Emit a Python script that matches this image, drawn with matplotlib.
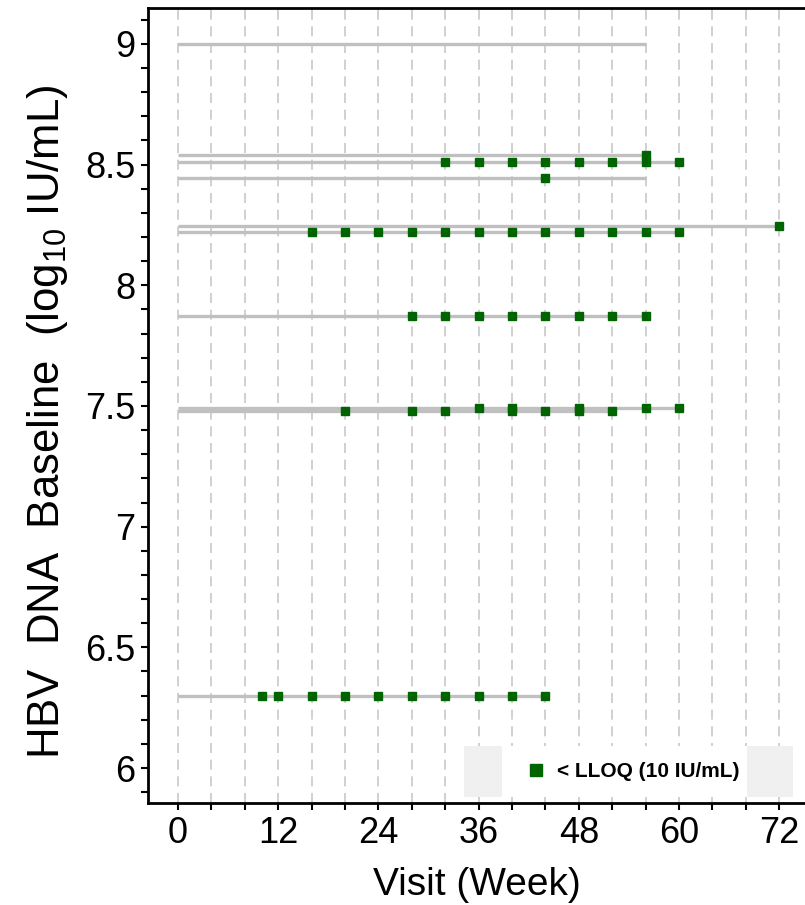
import matplotlib
matplotlib.use('Agg')
import matplotlib.pyplot as plt
from matplotlib.lines import Line2D
from matplotlib.patches import Rectangle
from matplotlib.ticker import MultipleLocator

plt.rcParams['font.family'] = ['Liberation Sans', 'DejaVu Sans']
plt.rcParams['mathtext.fontset'] = 'custom'
plt.rcParams['mathtext.rm'] = 'Liberation Sans'
plt.rcParams['mathtext.default'] = 'regular'

# one row per patient: baseline HBV DNA, last visit, visits below LLOQ
baseline = [9.0, 8.54, 8.509, 8.445, 8.245, 8.22, 7.871, 7.493, 7.481, 6.297]
last_week = [56, 56, 60, 56, 72, 60, 56, 60, 52, 44]
lloq_weeks = [
    [],
    [56],
    [32, 36, 40, 44, 48, 52, 56, 60],
    [44],
    [72],
    [16, 20, 24, 28, 32, 36, 40, 44, 48, 52, 56, 60],
    [28, 32, 36, 40, 44, 48, 52, 56],
    [36, 40, 48, 56, 60],
    [20, 28, 32, 40, 44, 48, 52],
    [10, 12, 16, 20, 24, 28, 32, 36, 40, 44],
]
grid_weeks = [0, 4, 8, 12, 16, 20, 24, 28, 32, 36, 40, 44, 48, 52, 56, 60, 64, 68, 72]
x_ticks = [0, 12, 24, 36, 48, 60, 72]
y_ticks = [6, 6.5, 7, 7.5, 8, 8.5, 9]
y_ticklabels = ['6', '6.5', '7', '7.5', '8', '8.5', '9']

LINE_GREY = '#c0c0c0'
GREEN = '#006400'

fig = plt.figure(figsize=(8.05, 9.05), dpi=100)
ax = fig.add_axes([148 / 805, 102 / 905, 657 / 805, 795 / 905])

for w in grid_weeks:
    ax.axvline(w, color='#c8c8c8', lw=1.2, ls=(0, (6, 4)), zorder=1)

for b, last, weeks in zip(baseline, last_week, lloq_weeks):
    ax.plot([0, last], [b, b], color=LINE_GREY, lw=2.4, solid_capstyle='butt', zorder=2)
    if weeks:
        ax.plot(weeks, [b] * len(weeks), ls='none', marker='s', ms=5.6,
                color=GREEN, mec=GREEN, zorder=3)

ax.set_xlim(-3.6, 75.1)
ax.set_ylim(5.855, 9.149)
ax.set_xticks(x_ticks)
ax.xaxis.set_minor_locator(MultipleLocator(4))
ax.set_yticks(y_ticks)
ax.set_yticklabels(y_ticklabels)
ax.yaxis.set_minor_locator(MultipleLocator(0.1))
ax.tick_params(which='both', direction='out', length=5, width=1.5, color='black',
               labelsize=26, pad=4)

for side in ['left', 'bottom', 'top']:
    ax.spines[side].set_linewidth(2)
ax.spines['right'].set_visible(False)

ax.set_xlabel('Visit (Week)', fontsize=28, labelpad=12)
ax.set_ylabel('HBV  DNA  Baseline  (log$_{10}$ IU/mL)', fontsize=31.5)
ax.yaxis.set_label_coords(-0.118, 0.48)

# legend box: grey band with a white panel holding the key
ax.add_patch(Rectangle((0.481, 0.0075), 0.501, 0.064, transform=ax.transAxes,
                       facecolor='#f0f0f0', edgecolor='none', zorder=4))
ax.add_patch(Rectangle((0.539, 0.0075), 0.373, 0.064, transform=ax.transAxes,
                       facecolor='white', edgecolor='none', zorder=5))
handle = Line2D([], [], ls='none', marker='s', ms=8, color=GREEN, label='< LLOQ (10 IU/mL)')
leg = ax.legend(handles=[handle], loc='center left', bbox_to_anchor=(0.5764, 0.0396),
                frameon=False, borderpad=0, borderaxespad=0, handlelength=0.9,
                handletextpad=0.55, prop={'size': 15, 'weight': 'bold'})
leg.set_zorder(6)

fig.savefig('out.png', dpi=100)
